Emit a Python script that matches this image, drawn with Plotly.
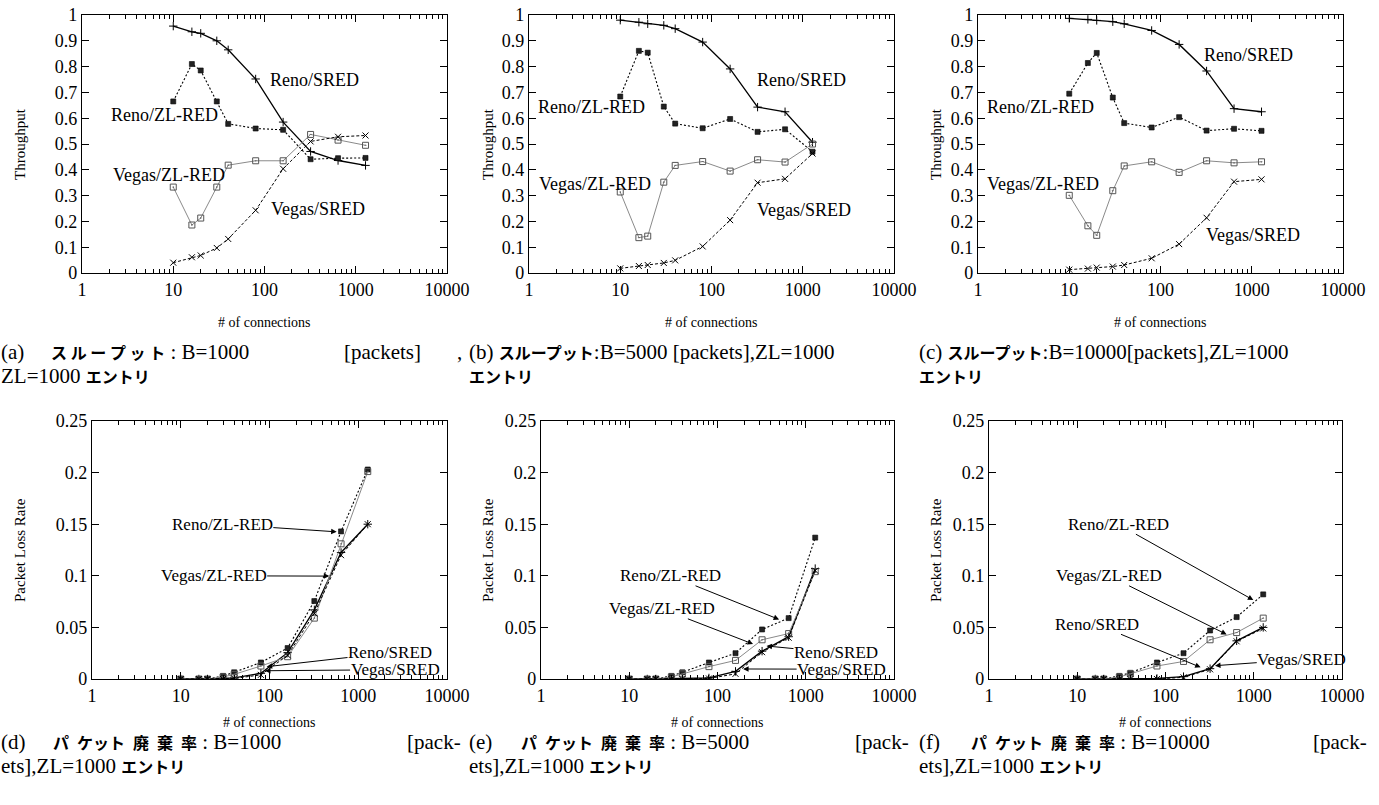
import math
import plotly.graph_objects as go

W, H = 1379, 805

# ---------------- data ----------------
connections = [10, 16, 20, 30, 40, 80, 160, 320, 640, 1280]

a_reno_sred = [0.957, 0.935, 0.929, 0.900, 0.865, 0.752, 0.585, 0.471, 0.436, 0.417]
a_reno_zl = [0.665, 0.810, 0.785, 0.665, 0.578, 0.560, 0.555, 0.441, 0.445, 0.446]
a_vegas_zl = [0.333, 0.186, 0.213, 0.333, 0.418, 0.435, 0.435, 0.537, 0.515, 0.495]
a_vegas_sred = [0.040, 0.061, 0.068, 0.097, 0.132, 0.243, 0.404, 0.510, 0.528, 0.533]

b_reno_sred = [0.980, 0.972, 0.966, 0.960, 0.947, 0.895, 0.791, 0.643, 0.625, 0.507]
b_reno_zl = [0.684, 0.861, 0.854, 0.645, 0.579, 0.561, 0.597, 0.547, 0.557, 0.470]
b_vegas_zl = [0.314, 0.137, 0.143, 0.352, 0.417, 0.432, 0.395, 0.439, 0.430, 0.500]
b_vegas_sred = [0.018, 0.027, 0.031, 0.039, 0.049, 0.103, 0.205, 0.350, 0.365, 0.463]

c_reno_sred = [0.987, 0.983, 0.979, 0.974, 0.966, 0.940, 0.886, 0.783, 0.637, 0.625]
c_reno_zl = [0.695, 0.814, 0.853, 0.680, 0.581, 0.564, 0.604, 0.552, 0.559, 0.551]
c_vegas_zl = [0.301, 0.183, 0.146, 0.319, 0.415, 0.431, 0.390, 0.435, 0.427, 0.431]
c_vegas_sred = [0.013, 0.017, 0.021, 0.025, 0.031, 0.057, 0.112, 0.214, 0.354, 0.363]

d_reno_zl = [0, 0, 0, 0.003, 0.0065, 0.016, 0.030, 0.0755, 0.143, 0.203]
d_vegas_zl = [0, 0, 0, 0.002, 0.0045, 0.0126, 0.0216, 0.059, 0.131, 0.201]
d_reno_sred = [0, 0, 0, 0.0005, 0.001, 0.0055, 0.0255, 0.067, 0.1226, 0.150]
d_vegas_sred = [0, 0, 0, 0, 0.0005, 0.004, 0.023, 0.0635, 0.120, 0.150]

e_reno_zl = [0, 0, 0, 0.003, 0.0065, 0.016, 0.025, 0.048, 0.059, 0.137]
e_vegas_zl = [0, 0, 0, 0.002, 0.005, 0.012, 0.018, 0.038, 0.044, 0.104]
e_reno_sred = [0, 0, 0, 0.0003, 0.0005, 0.001, 0.0074, 0.027, 0.041, 0.107]
e_vegas_sred = [0, 0, 0, 0, 0, 0.0005, 0.005, 0.026, 0.040, 0.105]

f_reno_zl = [0, 0, 0, 0.003, 0.006, 0.016, 0.025, 0.047, 0.060, 0.082]
f_vegas_zl = [0, 0, 0, 0.002, 0.005, 0.0126, 0.017, 0.038, 0.045, 0.059]
f_reno_sred = [0, 0, 0, 0, 0.0003, 0.0005, 0.0023, 0.010, 0.037, 0.050]
f_vegas_sred = [0, 0, 0, 0, 0, 0, 0.0016, 0.0094, 0.0365, 0.049]

x_tick_vals = [1, 10, 100, 1000, 10000]
x_tick_text = ["1", "10", "100", "1000", "10000"]
thr_tick_vals = [0, 0.1, 0.2, 0.3, 0.4, 0.5, 0.6, 0.7, 0.8, 0.9, 1.0]
thr_tick_text = ["0", "0.1", "0.2", "0.3", "0.4", "0.5", "0.6", "0.7", "0.8", "0.9", "1"]
loss_tick_vals = [0, 0.05, 0.1, 0.15, 0.2, 0.25]
loss_tick_text = ["0", "0.05", "0.1", "0.15", "0.2", "0.25"]

series_names = ["Reno/SRED", "Reno/ZL-RED", "Vegas/ZL-RED", "Vegas/SRED"]

panels = [
    [a_reno_sred, a_reno_zl, a_vegas_zl, a_vegas_sred],
    [b_reno_sred, b_reno_zl, b_vegas_zl, b_vegas_sred],
    [c_reno_sred, c_reno_zl, c_vegas_zl, c_vegas_sred],
    [d_reno_sred, d_reno_zl, d_vegas_zl, d_vegas_sred],
    [e_reno_sred, e_reno_zl, e_vegas_zl, e_vegas_sred],
    [f_reno_sred, f_reno_zl, f_vegas_zl, f_vegas_sred],
]

# curve labels (top row): (name, x_text, y_text)
top_labels = [
    [("Reno/SRED", 350, 0.748), ("Reno/ZL-RED", 8.1, 0.613), ("Vegas/ZL-RED", 8.9, 0.381), ("Vegas/SRED", 384, 0.248)],
    [("Reno/SRED", 960, 0.748), ("Reno/ZL-RED", 4.9, 0.643), ("Vegas/ZL-RED", 5.3, 0.346), ("Vegas/SRED", 1040, 0.245)],
    [("Reno/SRED", 920, 0.845), ("Reno/ZL-RED", 4.8, 0.643), ("Vegas/ZL-RED", 5.2, 0.346), ("Vegas/SRED", 1020, 0.148)],
]
# curve labels (bottom row): (name, x_text, y_text, x_head, y_head)
bottom_labels = [
    [("Reno/ZL-RED", 29.4, 0.150, 571, 0.1426), ("Vegas/ZL-RED", 23.5, 0.100, 472, 0.0997),
     ("Reno/SRED", 2280, 0.0255, 93, 0.0119), ("Vegas/SRED", 2600, 0.0090, 89, 0.008)],
    [("Reno/ZL-RED", 29.5, 0.100, 499, 0.0577), ("Vegas/ZL-RED", 23.5, 0.068, 253, 0.0339),
     ("Reno/SRED", 2200, 0.0255, 359, 0.032), ("Vegas/SRED", 2550, 0.0095, 195, 0.0097)],
    [("Reno/ZL-RED", 29.0, 0.150, 989, 0.0765), ("Vegas/ZL-RED", 22.9, 0.100, 493, 0.0432),
     ("Reno/SRED", 16.7, 0.053, 250, 0.0113), ("Vegas/SRED", 3500, 0.019, 364, 0.0129)],
]

# ---------------- layout geometry (pixels) ----------------
col_px_top = [(82, 447), (529, 894), (978, 1343)]
col_px_bot = [(92, 447), (541, 894), (989, 1342)]
row_px = [(15, 273), (421, 679)]

SERIF = "Liberation Serif"
JP = "font-family:'Noto Sans CJK JP';font-size:16px;font-weight:bold"

styles = {
    "Reno/SRED": dict(line=dict(color="black", width=1.3, dash="solid"),
                      marker=dict(symbol="cross-thin", size=6, color="black", line=dict(width=1, color="black"))),
    "Reno/ZL-RED": dict(line=dict(color="black", width=1.1, dash="2px,2px"),
                        marker=dict(symbol="square", size=5, color="#222", line=dict(width=0.6, color="black"))),
    "Vegas/ZL-RED": dict(line=dict(color="#8a8a8a", width=1.0, dash="solid"),
                         marker=dict(symbol="square-open-dot", size=6, color="#555", line=dict(width=1, color="#555"))),
    "Vegas/SRED": dict(line=dict(color="black", width=1.0, dash="3px,2px"),
                       marker=dict(symbol="x-thin", size=6, color="black", line=dict(width=1, color="black"))),
}

fig = go.Figure()
minor_vals = [m * 10 ** e for e in range(0, 4) for m in range(2, 10)]

for i, data in enumerate(panels):
    idx = i + 1
    xa = "x" if idx == 1 else f"x{idx}"
    ya = "y" if idx == 1 else f"y{idx}"
    for name, vals in zip(series_names, data):
        st = styles[name]
        fig.add_trace(go.Scatter(x=connections, y=vals, mode="lines+markers", name=name,
                                 line=st["line"], marker=st["marker"], xaxis=xa, yaxis=ya,
                                 showlegend=False, hoverinfo="x+y"))
    r = 0 if i < 3 else 1
    c = i % 3
    x0, x1 = (col_px_top if r == 0 else col_px_bot)[c]
    y0, y1 = row_px[r]
    xdom = [x0 / W, x1 / W]
    ydom = [1 - y1 / H, 1 - y0 / H]
    xkey = "xaxis" if idx == 1 else f"xaxis{idx}"
    ykey = "yaxis" if idx == 1 else f"yaxis{idx}"
    fig.update_layout(**{
        xkey: dict(domain=xdom, anchor=ya, type="log", range=[0, 4], automargin=False,
                   tickmode="array", tickvals=x_tick_vals, ticktext=x_tick_text,
                   ticks="inside", ticklen=7, tickcolor="black", tickwidth=1,
                   minor=dict(tickmode="array", tickvals=minor_vals, ticks="inside", ticklen=4,
                              tickcolor="black", tickwidth=1, showgrid=False),
                   showline=True, linecolor="black", linewidth=1.2, mirror="allticks",
                   showgrid=False, zeroline=False,
                   tickfont=dict(family=SERIF, size=18, color="black")),
        ykey: dict(domain=ydom, anchor=xa, automargin=False,
                   range=[0, 1] if r == 0 else [0, 0.25],
                   tickmode="array",
                   tickvals=thr_tick_vals if r == 0 else loss_tick_vals,
                   ticktext=thr_tick_text if r == 0 else loss_tick_text,
                   ticks="inside", ticklen=7, tickcolor="black", tickwidth=1,
                   showline=True, linecolor="black", linewidth=1.2, mirror="allticks",
                   showgrid=False, zeroline=False,
                   tickfont=dict(family=SERIF, size=18, color="black")),
    })

    if r == 0:
        for name, xt, yt in top_labels[c]:
            fig.add_annotation(x=math.log10(xt), y=yt, xref=xa, yref=ya, text=name,
                               xanchor="center", yanchor="middle",
                               showarrow=False, font=dict(family=SERIF, size=18, color="black"))
    else:
        for name, xt, yt, xh, yh in bottom_labels[c]:
            fig.add_annotation(x=math.log10(xh), y=yh, xref=xa, yref=ya,
                               ax=math.log10(xt), ay=yt, axref=xa, ayref=ya, text=name,
                               xanchor="center", yanchor="middle",
                               showarrow=True, arrowhead=2, arrowsize=1.1, arrowwidth=1,
                               arrowcolor="black", standoff=0, startstandoff=0,
                               borderpad=0,
                               font=dict(family=SERIF, size=17, color="black"))

    # axis titles
    xc = (x0 + x1) / 2 / W
    fig.add_annotation(x=xc, y=1 - (322 if r == 0 else 722) / H, xref="paper", yref="paper",
                       text="# of connections", showarrow=False, xanchor="center", yanchor="middle",
                       font=dict(family=SERIF, size=14, color="black"))
    ytx = [20, 488, 936][c]
    fig.add_annotation(x=ytx / W, y=1 - ((y0 + y1) / 2) / H, xref="paper", yref="paper",
                       text="Throughput" if r == 0 else "Packet Loss Rate", textangle=-90,
                       xanchor="center", yanchor="middle",
                       showarrow=False, font=dict(family=SERIF, size=15, color="black"))


def jp(s):
    return f"<span style=\"{JP}\">{s}</span>"


EN = "\u2002"
pk = EN.join(["パ", "ケット", "廃", "棄", "率"])

# captions: (x_px, y_px, anchor, text)
r1a, r1b = 352, 376
r2a, r2b = 742, 766
captions = [
    (0, r1a, "left", "(a)"), (50, r1a, "left", jp("ス ル ー プ ッ ト") + " : B=1000"),
    (422, r1a, "right", "[packets]"), (463, r1a, "right", ","),
    (0, r1b, "left", "ZL=1000 " + jp("エントリ")),
    (468, r1a, "left", "(b) " + jp("スループット") + ":B=5000 [packets],ZL=1000"),
    (468, r1b, "left", jp("エントリ")),
    (918, r1a, "left", "(c) " + jp("スループット") + ":B=10000[packets],ZL=1000"),
    (918, r1b, "left", jp("エントリ")),
    (0, r2a, "left", "(d)"), (52, r2a, "left", jp(pk) + " : B=1000"),
    (462, r2a, "right", "[pack-"), (0, r2b, "left", "ets],ZL=1000 " + jp("エントリ")),
    (468, r2a, "left", "(e)"), (520, r2a, "left", jp(pk) + " : B=5000"),
    (910, r2a, "right", "[pack-"), (468, r2b, "left", "ets],ZL=1000 " + jp("エントリ")),
    (918, r2a, "left", "(f)"), (970, r2a, "left", jp(pk) + " : B=10000"),
    (1368, r2a, "right", "[pack-"), (918, r2b, "left", "ets],ZL=1000 " + jp("エントリ")),
]
for xp, yp, anc, txt in captions:
    fig.add_annotation(x=xp / W, y=1 - yp / H, xref="paper", yref="paper", text=txt,
                       xanchor=anc, yanchor="middle", showarrow=False, borderpad=0,
                       font=dict(family=SERIF, size=21, color="black"))

fig.update_layout(width=W, height=H, margin=dict(l=0, r=0, t=0, b=0, autoexpand=False),
                  paper_bgcolor="white", plot_bgcolor="white", showlegend=False)

fig.write_html("out.html", config={"displayModeBar": False},
               post_script="document.body.style.margin='0';document.body.style.overflow='hidden';")
